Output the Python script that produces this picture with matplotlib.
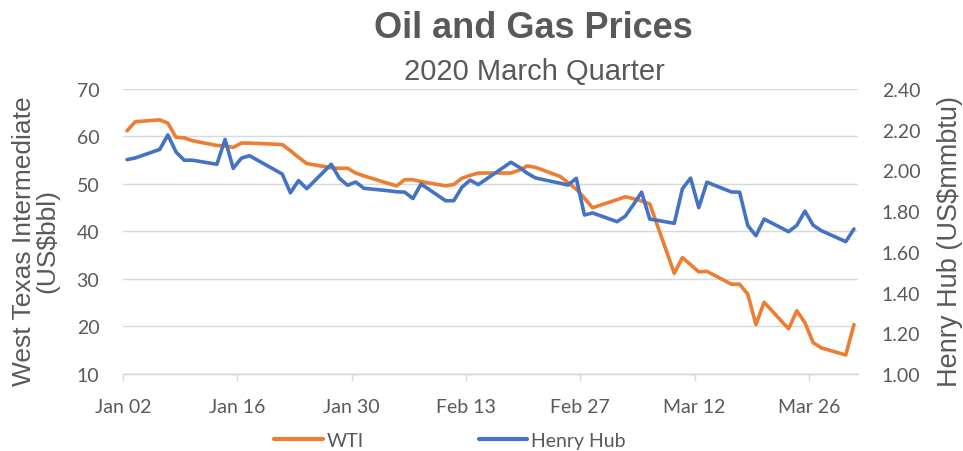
import pandas as pd
import matplotlib
matplotlib.use('Agg')
import matplotlib.pyplot as plt
import matplotlib.dates as mdates

# trading days, 2020 March quarter
dates = ['2020-01-02', '2020-01-03', '2020-01-06', '2020-01-07', '2020-01-08', '2020-01-09',
         '2020-01-10', '2020-01-13', '2020-01-14', '2020-01-15', '2020-01-16', '2020-01-17',
         '2020-01-21', '2020-01-22', '2020-01-23', '2020-01-24', '2020-01-27', '2020-01-28',
         '2020-01-29', '2020-01-30', '2020-01-31', '2020-02-03', '2020-02-04', '2020-02-05',
         '2020-02-06', '2020-02-07', '2020-02-10', '2020-02-11', '2020-02-12', '2020-02-13',
         '2020-02-14', '2020-02-18', '2020-02-19', '2020-02-20', '2020-02-21', '2020-02-24',
         '2020-02-25', '2020-02-26', '2020-02-27', '2020-02-28', '2020-03-02', '2020-03-03',
         '2020-03-04', '2020-03-05', '2020-03-06', '2020-03-09', '2020-03-10', '2020-03-11',
         '2020-03-12', '2020-03-13', '2020-03-16', '2020-03-17', '2020-03-18', '2020-03-19',
         '2020-03-20', '2020-03-23', '2020-03-24', '2020-03-25', '2020-03-26', '2020-03-27',
         '2020-03-30', '2020-03-31']

# West Texas Intermediate, US$/bbl
wti = [61.2, 63.1, 63.5, 62.8, 59.8, 59.7, 59.1, 58.1, 58.0, 57.7, 58.6, 58.6,
       58.3, 57.0, 55.6, 54.3, 53.4, 53.3, 53.3, 52.3, 51.7, 50.1, 49.6, 50.9,
       50.9, 50.5, 49.6, 49.9, 51.2, 51.8, 52.3, 52.3, 52.9, 53.8, 53.5, 51.6,
       50.3, 48.9, 47.0, 45.0, 46.7, 47.3, 46.9, 46.4, 45.8, 31.2, 34.5, 33.0,
       31.5, 31.6, 28.9, 28.9, 26.8, 20.4, 25.1, 19.5, 23.3, 20.8, 16.6, 15.5,
       14.0, 20.4]

# Henry Hub, US$/mmbtu
henry_hub = [2.053, 2.061, 2.103, 2.174, 2.090, 2.050, 2.050, 2.030, 2.152, 2.010, 2.060, 2.072,
             1.982, 1.890, 1.950, 1.910, 2.030, 1.961, 1.927, 1.943, 1.912, 1.900, 1.895, 1.893,
             1.862, 1.933, 1.851, 1.851, 1.917, 1.952, 1.930, 2.040, 2.016, 1.986, 1.963, 1.937,
             1.928, 1.961, 1.781, 1.791, 1.748, 1.775, 1.832, 1.893, 1.761, 1.740, 1.910, 1.962,
             1.817, 1.942, 1.894, 1.893, 1.729, 1.679, 1.761, 1.699, 1.730, 1.800, 1.731, 1.704,
             1.650, 1.712]

tick_dates = ['2020-01-02', '2020-01-16', '2020-01-30', '2020-02-13', '2020-02-27',
              '2020-03-12', '2020-03-26']

grey = '#595959'
orange = '#ED7D31'
blue = '#4472C4'
grid_col = '#D9D9D9'

# points sit in the middle of each day slot (Excel date axis)
x = pd.to_datetime(dates) + pd.Timedelta(hours=12)

fig = plt.figure(figsize=(9.63, 4.52), dpi=100)
ax = fig.add_axes([0.1277, 0.1704, 0.7633, 0.6306])
ax2 = ax.twinx()

l1, = ax.plot(x, wti, color=orange, lw=2.6, solid_joinstyle='round', solid_capstyle='round', label='WTI')
l2, = ax2.plot(x, henry_hub, color=blue, lw=2.6, solid_joinstyle='round', solid_capstyle='round', label='Henry Hub')

ax.set_xlim(pd.Timestamp('2020-01-02'), pd.Timestamp('2020-04-01'))
ax.set_ylim(10, 70)
ax2.set_ylim(1.0, 2.4)
ax.set_yticks(range(10, 71, 10))
ax2.set_yticks([1.0, 1.2, 1.4, 1.6, 1.8, 2.0, 2.2, 2.4])
ax2.set_yticklabels(['%.2f' % v for v in ax2.get_yticks()])
ax.set_xticks(pd.to_datetime(tick_dates))
ax.xaxis.set_major_formatter(mdates.DateFormatter('%b %d'))

ax.grid(axis='y', color=grid_col, lw=1.0)
ax.set_axisbelow(True)
for a in (ax, ax2):
    for s in ('top', 'left', 'right'):
        a.spines[s].set_visible(False)
    a.spines['bottom'].set_color(grid_col)
    a.spines['bottom'].set_linewidth(1.0)

ax.tick_params(axis='y', length=0, pad=17, labelcolor=grey, labelsize=14)
ax2.tick_params(axis='y', length=0, pad=17, labelcolor=grey, labelsize=14)
ax.tick_params(axis='x', length=5, width=1.0, color=grid_col, pad=12, labelcolor=grey, labelsize=14)
for lab in ax.get_xticklabels() + ax.get_yticklabels() + ax2.get_yticklabels():
    lab.set_fontfamily('Lato')

fig.text(0.5535, 0.916, 'Oil and Gas Prices', ha='center', va='baseline',
         fontsize=26, fontweight='bold', color=grey, family='Liberation Sans')
fig.text(0.5545, 0.823, '2020 March Quarter', ha='center', va='baseline',
         fontsize=21, color=grey, family='Liberation Sans')
fig.text(0.037, 0.466, 'West Texas Intermediate\n(US$bbl)', rotation=90, ha='center', va='center',
         multialignment='center', fontsize=19, color=grey, family='Liberation Sans', linespacing=0.95)
fig.text(0.9865, 0.466, 'Henry Hub (US$mmbtu)', rotation=90, ha='center', va='center',
         fontsize=19.5, color=grey, family='Liberation Sans')

leg = fig.legend([l1, l2], ['WTI', 'Henry Hub'], loc='center', bbox_to_anchor=(0.4673, 0.024),
                 ncol=2, frameon=False, handlelength=2.5, handletextpad=0.2, columnspacing=5.9,
                 prop={'family': 'Lato', 'size': 14})
for t in leg.get_texts():
    t.set_color(grey)
for h in leg.legend_handles:
    h.set_linewidth(3.0)

fig.savefig('out.png', dpi=100)
